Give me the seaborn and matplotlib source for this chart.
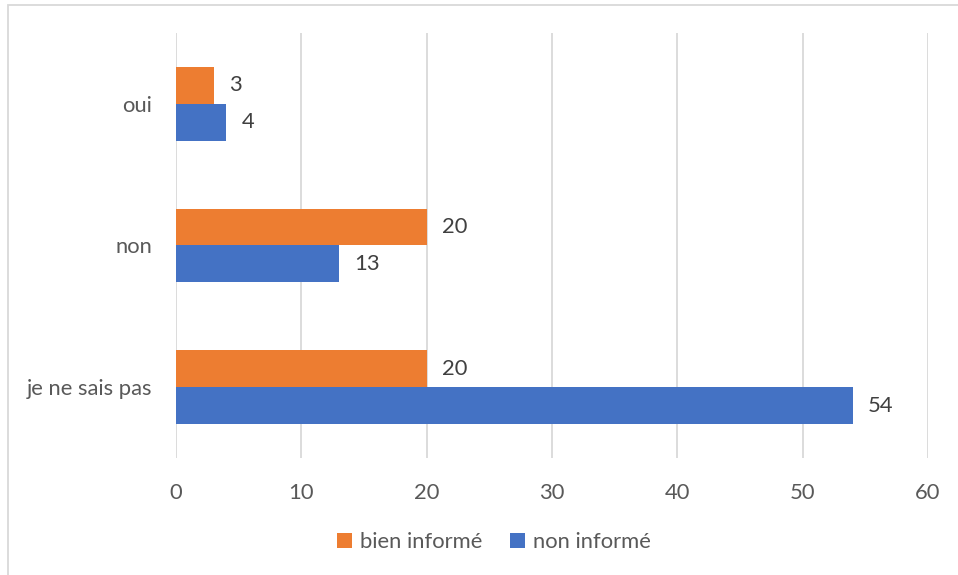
import pandas as pd
import seaborn as sns
import matplotlib.pyplot as plt
from matplotlib.patches import Rectangle

# --- données ---
categories = ["oui", "non", "je ne sais pas"]
bien_informe = [3, 20, 20]
non_informe = [4, 13, 54]
series = ["bien informé", "non informé"]
couleurs = ["#ED7D31", "#4472C4"]
ticks_x = [0, 10, 20, 30, 40, 50, 60]

df = pd.DataFrame({
    "reponse": categories * 2,
    "valeur": bien_informe + non_informe,
    "groupe": [series[0]] * 3 + [series[1]] * 3,
})

sns.set_style("white")
plt.rcParams["font.family"] = ["Lato", "DejaVu Sans"]
gris = "#595959"
taille = 15.8

fig = plt.figure(figsize=(9.58, 5.75), dpi=100)
ax = fig.add_axes([0.1837, 0.2035, 0.785, 0.7391])

sns.barplot(data=df, x="valeur", y="reponse", hue="groupe", order=categories,
            hue_order=series, palette=couleurs, orient="h", width=0.52,
            saturation=1, linewidth=0, ax=ax)

for cont in ax.containers:
    ax.bar_label(cont, padding=11, fontsize=taille, color="#404040")

ax.set_xlim(0, 60)
ax.set_xticks(ticks_x)
ax.set_ylim(2.5, -0.5)
ax.grid(axis="x", color="#D9D9D9", linewidth=1.3)
ax.set_axisbelow(True)
for s in ax.spines.values():
    s.set_visible(False)
ax.tick_params(axis="both", length=0, labelsize=taille, labelcolor=gris)
ax.tick_params(axis="x", pad=18)
ax.tick_params(axis="y", pad=17)
ax.set_xlabel("")
ax.set_ylabel("")

ax.legend(loc="center", bbox_to_anchor=(494 / 958, 1 - 542 / 575),
          bbox_transform=fig.transFigure, ncol=2, frameon=False,
          fontsize=taille, labelcolor=gris, handlelength=0.7, handleheight=0.7,
          handletextpad=0.35, columnspacing=1.25)

# cadre du graphique
fig.patches.append(Rectangle((8 / 958, -0.1), 1.2, 1 - 5 / 575 + 0.1,
                             transform=fig.transFigure, fill=False,
                             edgecolor="#D9D9D9", linewidth=1.3))

fig.savefig("out.png", dpi=100)
